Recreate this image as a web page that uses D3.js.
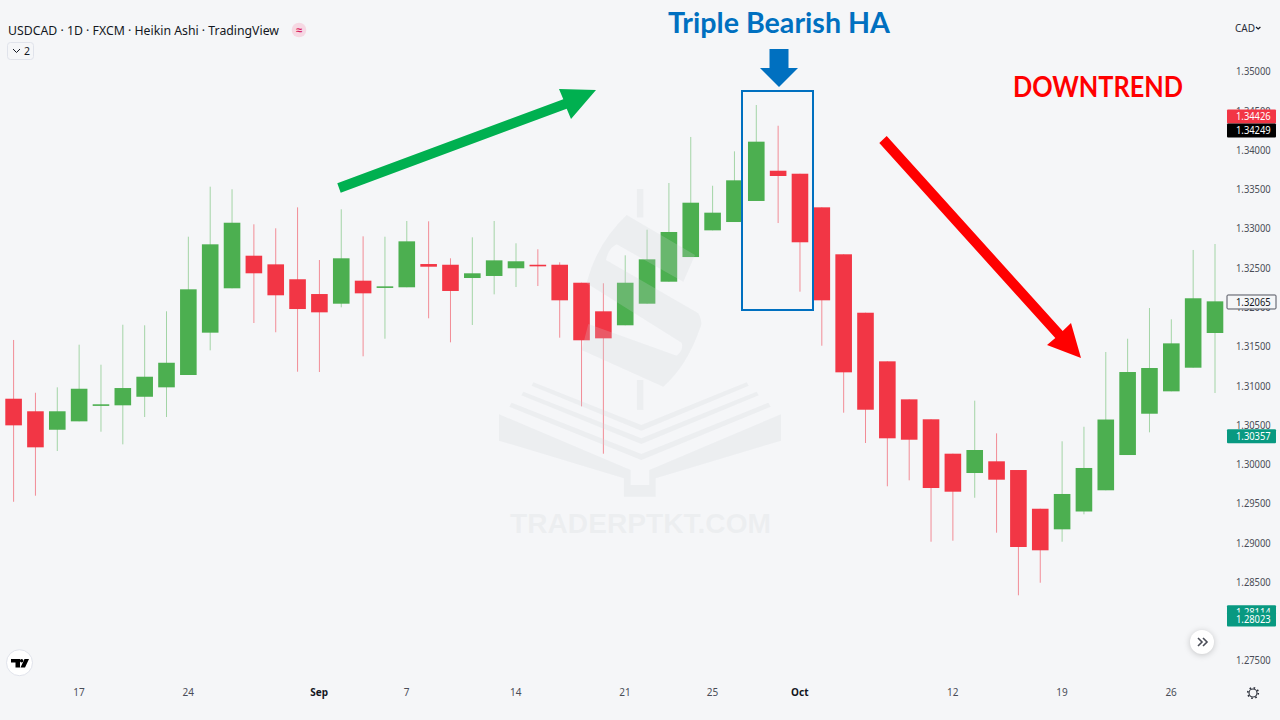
<!DOCTYPE html>
<html>
<head>
<meta charset="utf-8">
<title>USDCAD Heikin Ashi</title>
<script src="https://cdn.jsdelivr.net/npm/d3@7"></script>
<style>
  html, body { margin: 0; padding: 0; background: #f5f6f8; }
  svg { display: block; font-family: "Noto Sans", sans-serif; }
  .tick text { fill: #4a4d57; }
</style>
</head>
<body>
<svg id="graph" width="1280" height="720"></svg>
<script>
var dates = [
  "Aug 12", "Aug 13", "Aug 14", "Aug 17", "Aug 18", "Aug 19", "Aug 20", "Aug 21",
  "Aug 24", "Aug 25", "Aug 26", "Aug 27", "Aug 28", "Aug 31", "Sep 1", "Sep 2",
  "Sep 3", "Sep 4", "Sep 7", "Sep 8", "Sep 9", "Sep 10", "Sep 11", "Sep 14",
  "Sep 15", "Sep 16", "Sep 17", "Sep 18", "Sep 21", "Sep 22", "Sep 23", "Sep 24",
  "Sep 25", "Sep 28", "Sep 29", "Sep 30", "Oct 1", "Oct 2", "Oct 5", "Oct 6",
  "Oct 7", "Oct 8", "Oct 9", "Oct 12", "Oct 13", "Oct 14", "Oct 15", "Oct 16",
  "Oct 19", "Oct 20", "Oct 21", "Oct 22", "Oct 23", "Oct 26", "Oct 27", "Oct 28"
];
var opens = [
  1.30827, 1.30667, 1.30432, 1.30539, 1.30747, 1.30743, 1.30852, 1.30972,
  1.31129, 1.31668, 1.32233, 1.32648, 1.32538, 1.32348, 1.32160, 1.32037,
  1.32330, 1.32249, 1.32246, 1.32542, 1.32533, 1.32364, 1.32390, 1.32488,
  1.32533, 1.32533, 1.32304, 1.31940, 1.31762, 1.32037, 1.32317, 1.32631,
  1.32971, 1.33077, 1.33345, 1.33730, 1.33692, 1.33264, 1.32666, 1.31922,
  1.31303, 1.30819, 1.30565, 1.30127, 1.29881, 1.30030, 1.29919, 1.29426,
  1.29164, 1.29391, 1.29661, 1.30110, 1.30636, 1.30921, 1.31222, 1.31664
];
var closes = [
  1.30488, 1.30208, 1.30667, 1.30954, 1.30756, 1.30963, 1.31107, 1.31285,
  1.32220, 1.32793, 1.33068, 1.32424, 1.32144, 1.31969, 1.31927, 1.32615,
  1.32169, 1.32258, 1.32831, 1.32508, 1.32199, 1.32424, 1.32589, 1.32577,
  1.32517, 1.32080, 1.31571, 1.31596, 1.32304, 1.32602, 1.32950, 1.33323,
  1.33196, 1.33608, 1.34100, 1.33663, 1.32819, 1.32080, 1.31163, 1.30687,
  1.30323, 1.30305, 1.29690, 1.29643, 1.30174, 1.29796, 1.28939, 1.28897,
  1.29614, 1.29945, 1.30562, 1.31167, 1.31218, 1.31532, 1.32106, 1.32067
];
var highs = [
  1.31575, 1.30903, 1.30972, 1.31515, 1.31260, 1.31769, 1.31762, 1.31940,
  1.32890, 1.33527, 1.33494, 1.33048, 1.32997, 1.33264, 1.32593, 1.33239,
  1.32895, 1.32890, 1.33090, 1.33086, 1.32615, 1.32882, 1.33090, 1.32806,
  1.32730, 1.32564, 1.32304, 1.32297, 1.32653, 1.32979, 1.33574, 1.34160,
  1.33539, 1.33977, 1.34567, 1.34303, 1.33692, 1.33264, 1.32666, 1.31922,
  1.31303, 1.30819, 1.30565, 1.30127, 1.30802, 1.30386, 1.29919, 1.29426,
  1.30285, 1.30470, 1.31422, 1.31591, 1.31982, 1.31838, 1.32721, 1.32797
];
var lows = [
  1.29515, 1.29592, 1.30161, 1.30539, 1.30407, 1.30246, 1.30594, 1.30594,
  1.31129, 1.31443, 1.32233, 1.31791, 1.31673, 1.31171, 1.31167, 1.31991,
  1.31367, 1.31591, 1.32246, 1.31851, 1.31545, 1.31766, 1.32156, 1.32249,
  1.32262, 1.31604, 1.30730, 1.30127, 1.31762, 1.32037, 1.32317, 1.32631,
  1.32971, 1.33077, 1.33345, 1.33064, 1.32190, 1.31502, 1.30649, 1.30263,
  1.29712, 1.29788, 1.29006, 1.29019, 1.29566, 1.29121, 1.28324, 1.28484,
  1.29006, 1.29355, 1.29661, 1.30110, 1.30399, 1.30921, 1.31222, 1.30900
];

var priceTicks = [1.275, 1.28, 1.285, 1.29, 1.295, 1.30, 1.305, 1.31, 1.315, 1.32,
  1.325, 1.33, 1.335, 1.34, 1.345, 1.35];
var dateTicks = ["Aug 17", "Aug 24", "Sep 1", "Sep 7", "Sep 14", "Sep 21", "Sep 25", "Oct 1", "Oct 12", "Oct 19", "Oct 26"];
var dateTickLabels = ["17", "24", "Sep", "7", "14", "21", "25", "Oct", "12", "19", "26"];
var monthLabels = ["Sep", "Oct"];

var tagValues = [1.28114, 1.28023, 1.30357, 1.32065, 1.34426, 1.34249];
var tagFills = ["#089981", "#089981", "#089981", "#f5f6f8", "#f23645", "#000000"];
var tagInks = ["#ffffff", "#ffffff", "#ffffff", "#131722", "#ffffff", "#ffffff"];

var upColor = "#4caf50";
var downColor = "#f23645";
var upWick = "#a3d4a6";
var downWick = "#f28c96";

var svg = d3.select("#graph");

var xScale = d3.scalePoint().domain(dates).range([13.6, 1215]);
var yScale = d3.scaleLinear().domain([1.275, 1.35]).range([660, 71]);

var candles = dates.map(function (d, i) {
  return { date: d, open: opens[i], close: closes[i], high: highs[i], low: lows[i] };
});

var isUp = function (c) {
  return c.close >= c.open;
};

// axes first, the price tags sit on top of them
var drawAxes = function () {
  var yAxis = d3.axisRight(yScale)
    .tickValues(priceTicks)
    .tickFormat(d3.format(".5f"))
    .tickSize(0)
    .tickPadding(0);
  var yg = svg.append("g").attr("transform", "translate(1236,0.5)").call(yAxis);
  yg.select(".domain").remove();
  yg.selectAll("text")
    .attr("font-size", 10.5)
    .attr("font-family", "Noto Sans")
    .attr("textLength", 34.7)
    .attr("lengthAdjust", "spacingAndGlyphs");

  var xAxis = d3.axisBottom(xScale)
    .tickValues(dateTicks)
    .tickFormat(function (d) {
      return dateTickLabels[dateTicks.indexOf(d)];
    })
    .tickSize(0)
    .tickPadding(0);
  var xg = svg.append("g").attr("transform", "translate(-0.7,689)").call(xAxis);
  xg.select(".domain").remove();
  xg.selectAll("text")
    .attr("font-size", 10)
    .attr("font-family", "Noto Sans")
    .attr("font-weight", function (d) {
      return monthLabels.indexOf(dateTickLabels[dateTicks.indexOf(d)]) >= 0 ? 700 : 400;
    })
    .style("fill", function (d) {
      return monthLabels.indexOf(dateTickLabels[dateTicks.indexOf(d)]) >= 0 ? "#131722" : "#4a4d57";
    });
};

var drawCandles = function () {
  svg.append("g")
    .selectAll("line")
    .data(candles)
    .enter()
    .append("line")
    .attr("x1", function (c) { return xScale(c.date); })
    .attr("x2", function (c) { return xScale(c.date); })
    .attr("y1", function (c) { return yScale(c.high); })
    .attr("y2", function (c) { return yScale(c.low); })
    .attr("stroke-width", 1)
    .attr("stroke", function (c) { return isUp(c) ? upWick : downWick; });

  svg.append("g")
    .selectAll("rect")
    .data(candles)
    .enter()
    .append("rect")
    .attr("x", function (c) { return xScale(c.date) - 8.3; })
    .attr("width", 16.6)
    .attr("y", function (c) { return yScale(Math.max(c.open, c.close)); })
    .attr("height", function (c) {
      return Math.max(1.6, Math.abs(yScale(c.open) - yScale(c.close)));
    })
    .attr("fill", function (c) { return isUp(c) ? upColor : downColor; });
};

// site watermark lies over the candles, coordinates follow the logo drawing
var drawWatermark = function () {
  var wm = svg.append("g")
    .attr("fill", "rgb(208,210,214)")
    .attr("fill-opacity", 0.226);
  var logo = wm.append("g").attr("transform", "translate(480,180) scale(0.3333)");

  logo.append("rect").attr("x", 471).attr("y", 27).attr("width", 19).attr("height", 85);
  logo.append("rect").attr("x", 471).attr("y", 600).attr("width", 19).attr("height", 90);
  logo.append("path")
    .attr("d", "M440,105 L645,225 L610,305 L410,193 Q385,205 378,240 L655,400 Q670,430 660,445 " +
      "Q620,560 550,620 L305,510 L325,432 L590,527 Q612,510 605,488 L320,310 Q350,190 440,105 Z");

  logo.append("path")
    .attr("d", "M57,703 L452,870 L452,915 L508,915 L508,870 L903,703 L903,782 L527,895 " +
      "L527,950 L432,950 L432,895 L57,782 Z");
  logo.append("path")
    .attr("d", "M160,607 L484,735 L800,607 L806,617 L484,752 L155,617 Z");
  logo.append("path")
    .attr("d", "M130,635 L484,775 L830,635 L836,646 L484,792 L124,646 Z");
  logo.append("path")
    .attr("d", "M95,668 L484,822 L865,668 L872,680 L484,840 L88,680 Z");

  wm.append("text")
    .attr("x", 510)
    .attr("y", 533)
    .attr("textLength", 261)
    .attr("lengthAdjust", "spacingAndGlyphs")
    .attr("font-family", "Liberation Sans")
    .attr("font-weight", 700)
    .attr("font-size", 28)
    .text("TRADERPTKT.COM");
};

var drawTags = function () {
  var tags = svg.append("g")
    .selectAll("g")
    .data(tagValues)
    .enter()
    .append("g")
    .attr("transform", function (v) {
      return "translate(0," + (yScale(v) + 0.5) + ")";
    });
  tags.append("rect")
    .attr("x", 1227)
    .attr("y", -7)
    .attr("width", 49)
    .attr("height", 14)
    .attr("rx", 1)
    .attr("fill", function (v, i) { return tagFills[i]; })
    .attr("stroke", function (v, i) { return i === 3 ? "#50535e" : "none"; });
  tags.append("text")
    .attr("x", 1236)
    .attr("y", 3.6)
    .attr("font-size", 10.5)
    .attr("textLength", 34.7)
    .attr("lengthAdjust", "spacingAndGlyphs")
    .attr("fill", function (v, i) { return tagInks[i]; })
    .text(function (v) { return v.toFixed(5); });
};

var drawAnnotations = function () {
  var blue = "#0070c0";
  svg.append("text")
    .attr("x", 668)
    .attr("y", 33)
    .attr("textLength", 222)
    .attr("lengthAdjust", "spacingAndGlyphs")
    .attr("font-family", "Lato")
    .attr("font-weight", 700)
    .attr("font-size", 29)
    .attr("fill", blue)
    .text("Triple Bearish HA");
  svg.append("path")
    .attr("d", "M769.5,49 H788.5 V68 H798 L779,87 L760,68 H769.5 Z")
    .attr("fill", blue);
  svg.append("rect")
    .attr("x", 742)
    .attr("y", 91)
    .attr("width", 71)
    .attr("height", 219)
    .attr("fill", "none")
    .attr("stroke", blue)
    .attr("stroke-width", 2);

  svg.append("text")
    .attr("x", 1013)
    .attr("y", 97)
    .attr("textLength", 170)
    .attr("lengthAdjust", "spacingAndGlyphs")
    .attr("font-family", "Lato")
    .attr("font-weight", 700)
    .attr("font-size", 28)
    .attr("fill", "#ff0000")
    .text("DOWNTREND");

  svg.append("path")
    .attr("d", "M337.3,183.3 L563.3,99.3 L559,89 L596,90 L571,119 L566.7,108.7 L340.7,192.7 Z")
    .attr("fill", "#00b050");
  svg.append("path")
    .attr("d", "M879.3,143 L886.7,136 L1062.7,331 L1071,323 L1081,358 L1047,345 L1055.3,338 Z")
    .attr("fill", "#ff0000");
};

var drawChrome = function () {
  svg.append("text")
    .attr("x", 8)
    .attr("y", 35)
    .attr("textLength", 271)
    .attr("lengthAdjust", "spacingAndGlyphs")
    .attr("font-size", 13)
    .attr("fill", "#131722")
    .text("USDCAD · 1D · FXCM · Heikin Ashi · TradingView");

  svg.append("circle").attr("cx", 299).attr("cy", 30).attr("r", 7.3).attr("fill", "#f6d8e3");
  svg.append("text")
    .attr("x", 299)
    .attr("y", 34)
    .attr("text-anchor", "middle")
    .attr("font-size", 11)
    .attr("font-weight", 700)
    .attr("fill", "#d81b60")
    .text("≈");

  svg.append("rect")
    .attr("x", 7.5)
    .attr("y", 42.5)
    .attr("width", 26)
    .attr("height", 17)
    .attr("rx", 3)
    .attr("fill", "none")
    .attr("stroke", "#e0e3eb");
  svg.append("path")
    .attr("d", "M13,49 L16.5,52.5 L20,49")
    .attr("fill", "none")
    .attr("stroke", "#131722")
    .attr("stroke-width", 1);
  svg.append("text")
    .attr("x", 24)
    .attr("y", 55)
    .attr("font-size", 10.5)
    .attr("fill", "#131722")
    .text("2");

  svg.append("text")
    .attr("x", 1235)
    .attr("y", 32)
    .attr("font-size", 10)
    .attr("fill", "#2a2e39")
    .text("CAD");
  svg.append("path")
    .attr("d", "M1256,27 L1258.2,29 L1260.4,27")
    .attr("fill", "none")
    .attr("stroke", "#131722")
    .attr("stroke-width", 1.2);

  // scroll button
  svg.append("circle")
    .attr("cx", 1202)
    .attr("cy", 642)
    .attr("r", 12)
    .attr("fill", "#ffffff")
    .style("filter", "drop-shadow(0 1px 3px rgba(0,0,0,0.2))");
  svg.append("path")
    .attr("d", "M1198,638 L1202,642 L1198,646 M1203,638 L1207,642 L1203,646")
    .attr("fill", "none")
    .attr("stroke", "#4a4d57")
    .attr("stroke-width", 1.6);

  // tv logo
  svg.append("circle")
    .attr("cx", 19.5)
    .attr("cy", 662.7)
    .attr("r", 13)
    .attr("fill", "#ffffff")
    .attr("stroke", "#e0e3eb");
  svg.append("path")
    .attr("d", "M11,659 H20 V667.5 H15.5 V662.5 H11 Z M24.5,659 H29 L25,667.5 H20.5 Z")
    .attr("fill", "#000000");
  svg.append("circle").attr("cx", 21.6).attr("cy", 660.8).attr("r", 1.7).attr("fill", "#000000");

  // settings gear
  svg.append("circle")
    .attr("cx", 1253)
    .attr("cy", 693)
    .attr("r", 4)
    .attr("fill", "none")
    .attr("stroke", "#2a2e39")
    .attr("stroke-width", 1.1);
  svg.append("circle")
    .attr("cx", 1253)
    .attr("cy", 693)
    .attr("r", 5.3)
    .attr("fill", "none")
    .attr("stroke", "#2a2e39")
    .attr("stroke-width", 1.6)
    .attr("stroke-dasharray", "1.6 2.56");
};

drawAxes();
drawCandles();
drawWatermark();
drawTags();
drawAnnotations();
drawChrome();
</script>
</body>
</html>
